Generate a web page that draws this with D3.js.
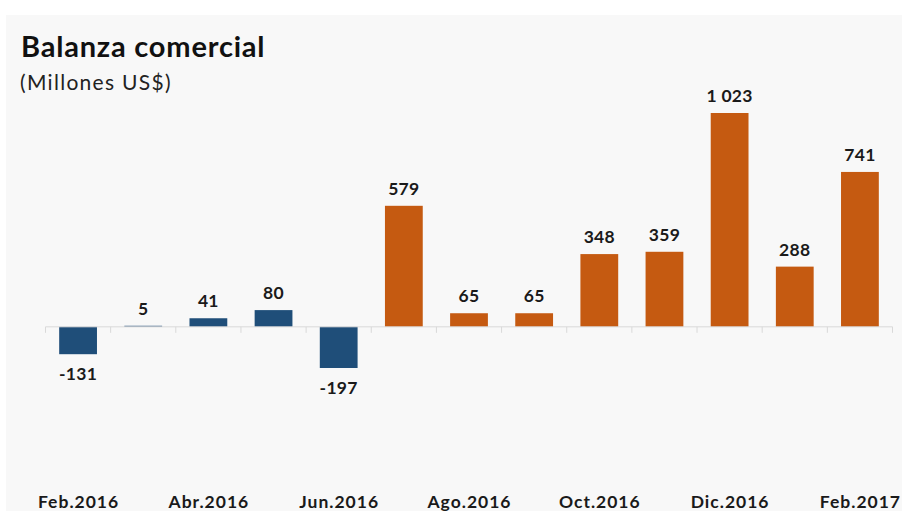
<!DOCTYPE html>
<html>
<head>
<meta charset="utf-8">
<script src="https://cdn.jsdelivr.net/npm/d3@7"></script>
<style>
  body { margin: 0; background: #fff; }
  text { font-family: Lato, "Open Sans", sans-serif; }
</style>
</head>
<body>
<div id="main"></div>
<script>
const ctx = { w: 910, h: 511 };

// data
const months = ["Feb.2016", "Mar.2016", "Abr.2016", "May.2016", "Jun.2016", "Jul.2016", "Ago.2016",
                "Set.2016", "Oct.2016", "Nov.2016", "Dic.2016", "Ene.2017", "Feb.2017"];
const values = [-131, 5, 41, 80, -197, 579, 65, 65, 348, 359, 1023, 288, 741];
const shownLabels = ["Feb.2016", "Abr.2016", "Jun.2016", "Ago.2016", "Oct.2016", "Dic.2016", "Feb.2017"];
const barLabels = ["-131", "5", "41", "80", "-197", "579", "65", "65", "348", "359", "1 023", "288", "741"];

const svg = d3.select("#main").append("svg")
    .attr("width", ctx.w)
    .attr("height", ctx.h);

svg.append("rect")
    .attr("x", 6).attr("y", 15)
    .attr("width", 896).attr("height", ctx.h - 15)
    .style("fill", "#f8f8f8");

svg.append("text")
    .attr("x", 21).attr("y", 57)
    .style("font-size", "29px").style("font-weight", "bold").style("fill", "#111")
    .style("letter-spacing", "0.8px")
    .text("Balanza comercial");
svg.append("text")
    .attr("x", 20).attr("y", 89.5)
    .style("font-size", "21px").style("fill", "#222")
    .style("letter-spacing", "1.3px")
    .text("(Millones US$)");

const x = d3.scaleBand()
    .domain(months)
    .range([45.5, 892.5])
    .paddingInner(0.42)
    .paddingOuter(0.21);

const y = d3.scaleLinear()
    .domain([-197, 1023])
    .range([368, 113]);

const color = (d, i) => i < 5 ? "#1f4e79" : "#c55a11";

svg.selectAll(".bar")
    .data(values)
    .enter()
    .append("rect")
    .attr("class", "bar")
    .attr("x", (d, i) => x(months[i]))
    .attr("width", x.bandwidth())
    .attr("y", d => y(Math.max(0, d)))
    .attr("height", d => Math.abs(y(d) - y(0)))
    .style("fill", color);

// axis line + ticks between categories
const step = x.step();
const x0 = x.range()[0];
svg.append("line")
    .attr("x1", x0).attr("x2", x.range()[1])
    .attr("y1", y(0)).attr("y2", y(0))
    .style("stroke", "#d9d9d9").style("stroke-width", 1);
svg.selectAll(".tick")
    .data(d3.range(months.length + 1))
    .enter()
    .append("line")
    .attr("x1", i => x0 + i * step).attr("x2", i => x0 + i * step)
    .attr("y1", y(0)).attr("y2", y(0) + 6)
    .style("stroke", "#d9d9d9");

svg.selectAll(".val")
    .data(values)
    .enter()
    .append("text")
    .attr("class", "val")
    .attr("x", (d, i) => x(months[i]) + x.bandwidth() / 2)
    .attr("y", d => d >= 0 ? y(d) - 11 : y(d) + 26)
    .attr("text-anchor", "middle")
    .style("font-size", "17.5px").style("font-weight", "bold").style("fill", "#1a1a1a")
    .style("letter-spacing", "0.3px")
    .text((d, i) => barLabels[i]);

svg.selectAll(".month")
    .data(shownLabels)
    .enter()
    .append("text")
    .attr("class", "month")
    .attr("x", d => x(d) + x.bandwidth() / 2 + 0.5)
    .attr("y", 507.5)
    .attr("text-anchor", "middle")
    .style("font-size", "17.5px").style("font-weight", "bold").style("fill", "#1a1a1a")
    .style("letter-spacing", "1px")
    .text(d => d);
</script>
</body>
</html>
